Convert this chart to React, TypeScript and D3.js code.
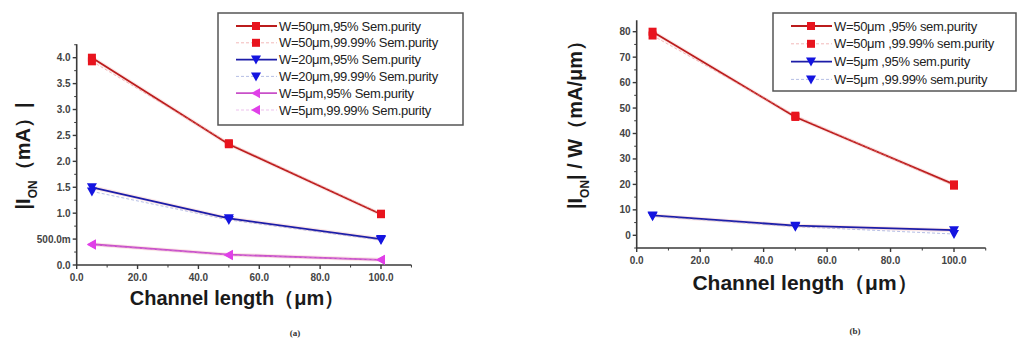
import * as d3 from "d3"

// ---- data ----
const channelLength = [5, 50, 100]

// panel (a): |I_ON| in mA
const a_w50_95 = [4.0, 2.33, 0.98]
const a_w50_9999 = [3.93, 2.35, 0.99]
const a_w20_95 = [1.5, 0.9, 0.5]
const a_w20_9999 = [1.42, 0.87, 0.48]
const a_w5_95 = [0.4, 0.2, 0.1]
const a_w5_9999 = [0.39, 0.19, 0.1]

// panel (b): |I_ON| / W in mA/µm
const b_w50_95 = [80, 46.5, 20]
const b_w50_9999 = [78.5, 47, 19.5]
const b_w5_95 = [7.8, 3.8, 2]
const b_w5_9999 = [7.5, 3.4, 0.5]

const xTicks = [0, 20, 40, 60, 80, 100]
const xTickLabels = ["0.0", "20.0", "40.0", "60.0", "80.0", "100.0"]
const aYTicks = [0, 0.5, 1, 1.5, 2, 2.5, 3, 3.5, 4]
const aYTickLabels = ["0.0", "500.0m", "1.0", "1.5", "2.0", "2.5", "3.0", "3.5", "4.0"]
const bYTicks = [0, 10, 20, 30, 40, 50, 60, 70, 80]
const bYTickLabels = ["0", "10", "20", "30", "40", "50", "60", "70", "80"]

const aLegend = [
  "W=50μm,95% Sem.purity",
  "W=50μm,99.99% Sem.purity",
  "W=20μm,95% Sem.purity",
  "W=20μm,99.99% Sem.purity",
  "W=5μm,95% Sem.purity",
  "W=5μm,99.99% Sem.purity",
]
const bLegend = [
  "W=50μm ,95% sem.purity",
  "W=50μm ,99.99% sem.purity",
  "W=5μm ,95% sem.purity",
  "W=5μm ,99.99% sem.purity",
]

const RED = "#bb1c1c"
const RED_M = "#e8141e"
const BLUE = "#1c1ca8"
const BLUE_M = "#1414e0"
const MAG = "#c850c8"
const MAG_M = "#e040e8"

type Serie = { values: number[]; line: string; marker: string; shape: string; dashed: boolean }

function Marker({ x, y, shape, color }: { x: number; y: number; shape: string; color: string }) {
  if (shape === "square") return <rect x={x - 4} y={y - 4} width={8} height={8} fill={color} />
  if (shape === "down")
    return <path d={`M${x - 5},${y - 4}L${x + 5},${y - 4}L${x},${y + 5}Z`} fill={color} />
  return <path d={`M${x - 5},${y}L${x + 4},${y - 5}L${x + 4},${y + 5}Z`} fill={color} />
}

function Panel(props: {
  xRange: [number, number]
  yDomain: [number, number]
  yRange: [number, number]
  yExtent: [number, number]
  yTicks: number[]
  yTickLabels: string[]
  yMinorStep: number
  series: Serie[]
  legend: string[]
  legendBox: { x: number; y: number; w: number; h: number; row: number }
  yLabel: React.ReactNode
  yLabelPos: [number, number]
  xLabelPos: [number, number]
  xLabelSize: number
  caption: string
  captionPos: [number, number]
}) {
  const x = d3.scaleLinear().domain([0, 100]).range(props.xRange)
  const y = d3.scaleLinear().domain(props.yDomain).range(props.yRange)
  const y0 = y(props.yExtent[0])
  const x0 = x(0)
  const line = d3
    .line<number>()
    .x((_, i) => x(channelLength[i]))
    .y((d) => y(d))
  const xMinor = d3.range(10, 111, 20)
  const yMinor = d3
    .range(props.yExtent[0], props.yExtent[1] + 1e-9, props.yMinorStep)
    .filter((v) => !props.yTicks.some((t) => Math.abs(t - v) < 1e-9))
  const axisColor = "#3a3a3a"
  const lb = props.legendBox
  return (
    <g>
      {/* axes */}
      <line x1={x0} x2={x0} y1={y(props.yExtent[1])} y2={y0} stroke={axisColor} strokeWidth={1.6} />
      <line x1={x0} x2={x(110)} y1={y0} y2={y0} stroke={axisColor} strokeWidth={1.6} />
      {xTicks.map((t, i) => (
        <g key={"xt" + t}>
          <line x1={x(t)} x2={x(t)} y1={y0} y2={y0 + 4} stroke={axisColor} strokeWidth={1.4} />
          <text x={x(t)} y={y0 + 16} textAnchor="middle" fontSize={10} fontWeight="bold" fill="#444">
            {xTickLabels[i]}
          </text>
        </g>
      ))}
      {xMinor.map((t) => (
        <line key={"xm" + t} x1={x(t)} x2={x(t)} y1={y0} y2={y0 + 2.5} stroke={axisColor} strokeWidth={1} />
      ))}
      {props.yTicks.map((t, i) => (
        <g key={"yt" + t}>
          <line x1={x0 - 4} x2={x0} y1={y(t)} y2={y(t)} stroke={axisColor} strokeWidth={1.4} />
          <text x={x0 - 6} y={y(t) + 3.5} textAnchor="end" fontSize={10} fontWeight="bold" fill="#444">
            {props.yTickLabels[i]}
          </text>
        </g>
      ))}
      {yMinor.map((t) => (
        <line key={"ym" + t} x1={x0 - 2.5} x2={x0} y1={y(t)} y2={y(t)} stroke={axisColor} strokeWidth={1} />
      ))}

      {/* series */}
      {props.series.map((s, k) => (
        <g key={"s" + k}>
          {!s.dashed && (
            <path d={line(s.values) || ""} fill="none" stroke="#f4b8b8" strokeOpacity={0.35} strokeWidth={4} />
          )}
          <path
            d={line(s.values) || ""}
            fill="none"
            stroke={s.line}
            strokeWidth={s.dashed ? 1 : 1.8}
            strokeDasharray={s.dashed ? "3,2" : undefined}
            strokeOpacity={s.dashed ? 0.55 : 1}
          />
          {s.values.map((v, i) => (
            <Marker key={i} x={x(channelLength[i])} y={y(v)} shape={s.shape} color={s.marker} />
          ))}
        </g>
      ))}

      {/* legend */}
      <rect x={lb.x} y={lb.y} width={lb.w} height={lb.h} fill="white" stroke="#555" strokeWidth={1.5} />
      {props.legend.map((name, i) => {
        const s = props.series[i]
        const cy = lb.y + 13 + i * lb.row
        return (
          <g key={"l" + i}>
            <line
              x1={lb.x + 18}
              x2={lb.x + 59}
              y1={cy}
              y2={cy}
              stroke={s.line}
              strokeWidth={s.dashed ? 1 : 1.8}
              strokeDasharray={s.dashed ? "3,2" : undefined}
              strokeOpacity={s.dashed ? 0.55 : 1}
            />
            <Marker x={lb.x + 38} y={cy} shape={s.shape} color={s.marker} />
            <text x={lb.x + 61} y={cy + 4.5} fontSize={13} letterSpacing={-0.3} fill="#222">
              {name}
            </text>
          </g>
        )
      })}

      {/* labels */}
      <text
        transform={`translate(${props.yLabelPos[0]},${props.yLabelPos[1]}) rotate(-90)`}
        textAnchor="middle"
        fontSize={20}
        fontWeight="bold"
        fill="#1a1a1a"
      >
        {props.yLabel}
      </text>
      <text
        x={props.xLabelPos[0]}
        y={props.xLabelPos[1]}
        textAnchor="middle"
        fontSize={props.xLabelSize}
        fontWeight="bold"
        fill="#1a1a1a"
      >
        Channel length（μm）
      </text>
      <text
        x={props.captionPos[0]}
        y={props.captionPos[1]}
        textAnchor="middle"
        fontSize={9}
        fontWeight="bold"
        fontFamily="Liberation Serif, serif"
        fill="#333"
      >
        {props.caption}
      </text>
    </g>
  )
}

export default function App() {
  const seriesA: Serie[] = [
    { values: a_w50_95, line: RED, marker: RED_M, shape: "square", dashed: false },
    { values: a_w50_9999, line: "#e88080", marker: RED_M, shape: "square", dashed: true },
    { values: a_w20_95, line: BLUE, marker: BLUE_M, shape: "down", dashed: false },
    { values: a_w20_9999, line: "#7a8ad0", marker: BLUE_M, shape: "down", dashed: true },
    { values: a_w5_95, line: MAG, marker: MAG_M, shape: "left", dashed: false },
    { values: a_w5_9999, line: "#e090e0", marker: MAG_M, shape: "left", dashed: true },
  ]
  const seriesB: Serie[] = [
    { values: b_w50_95, line: RED, marker: RED_M, shape: "square", dashed: false },
    { values: b_w50_9999, line: "#e88080", marker: RED_M, shape: "square", dashed: true },
    { values: b_w5_95, line: BLUE, marker: BLUE_M, shape: "down", dashed: false },
    { values: b_w5_9999, line: "#7a8ad0", marker: BLUE_M, shape: "down", dashed: true },
  ]
  const sub = { baselineShift: "sub", fontSize: 12 } as any
  return (
    <svg
      width={1017}
      height={340}
      style={{ position: "absolute", left: 0, top: 0, fontFamily: "Liberation Sans, Arial, sans-serif" }}
    >
      <rect width={1017} height={340} fill="white" />
      <Panel
        xRange={[76.7, 381]}
        yDomain={[0, 4]}
        yRange={[265, 57.7]}
        yExtent={[0, 4.26]}
        yTicks={aYTicks}
        yTickLabels={aYTickLabels}
        yMinorStep={0.25}
        series={seriesA}
        legend={aLegend}
        legendBox={{ x: 218, y: 13, w: 245, h: 112, row: 16.8 }}
        yLabel={
          <>
            |I<tspan style={sub}>ON</tspan>
            <tspan>（mA）|</tspan>
          </>
        }
        yLabelPos={[30, 156]}
        xLabelPos={[237, 305]}
        xLabelSize={20}
        caption="(a)"
        captionPos={[295, 336]}
      />
      <Panel
        xRange={[636.7, 954]}
        yDomain={[0, 80]}
        yRange={[235.3, 31.7]}
        yExtent={[-5, 84.5]}
        yTicks={bYTicks}
        yTickLabels={bYTickLabels}
        yMinorStep={5}
        series={seriesB}
        legend={bLegend}
        legendBox={{ x: 773, y: 13, w: 243, h: 78, row: 17.8 }}
        yLabel={
          <>
            |I<tspan style={sub}>ON</tspan>
            <tspan>| / W（mA/μm）</tspan>
          </>
        }
        yLabelPos={[582, 120]}
        xLabelPos={[805, 290]}
        xLabelSize={21}
        caption="(b)"
        captionPos={[855, 334]}
      />
    </svg>
  )
}
